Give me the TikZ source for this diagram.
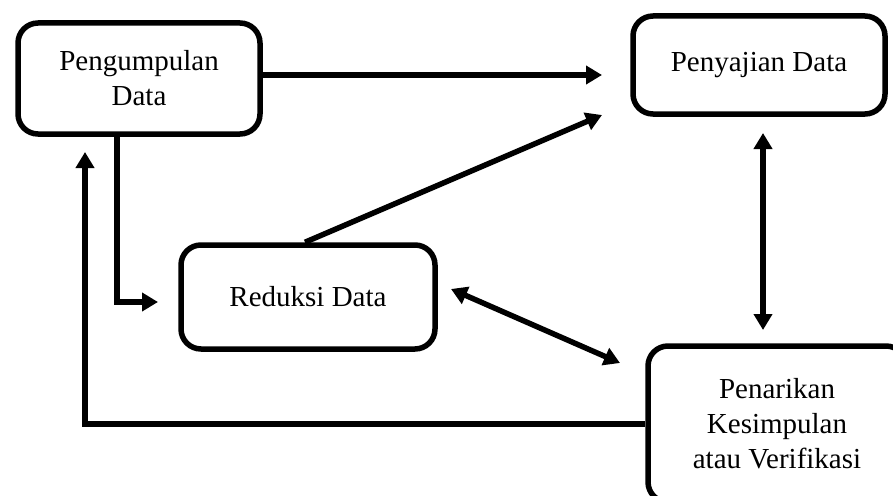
\documentclass[tikz,border=0pt]{standalone}
\usepackage{fontspec}
\setmainfont{Liberation Serif}
\usetikzlibrary{arrows.meta}

\begin{document}
\begin{tikzpicture}[x=1pt, y=-1pt]
        \tikzstyle{box}=[draw,line width=5.5pt,rounded corners=20pt,align=center,inner sep=0pt,font=\fontsize{29}{35}\selectfont]
        \tikzstyle{flow}=[line width=5.5pt,-{Triangle[length=16pt,width=18pt]}]
        \tikzstyle{both}=[line width=5.5pt,{Triangle[length=16pt,width=18pt]}-{Triangle[length=16pt,width=18pt]}]

        \useasboundingbox (0,0) rectangle (893,495);
        \clip (0,0) rectangle (893,495);

        \node[box,minimum width=242pt,minimum height=111pt] (K_1) at (139,78.5)  {Pengumpulan\\Data};
        \node[box,minimum width=252pt,minimum height=98pt] (K_2) at (759,65)  {Penyajian Data};
        \node[box,minimum width=254pt,minimum height=104pt] (K_3) at (308,297)  {Reduksi Data};
        \node[box,minimum width=258pt,minimum height=156pt] (K_4) at (777,424)  {Penarikan\\Kesimpulan\\atau Verifikasi};

        \coordinate (T_1) at (602,75);
        \coordinate (T_2) at (602,115);
        \coordinate (T_3) at (158,302);
        \coordinate (T_4) at (85,152);
        \coordinate (A_1) at (763,133);
        \coordinate (A_2) at (763,330);
        \coordinate (A_3) at (451,289);
        \coordinate (A_4) at (620,363);

        \draw[flow] (K_1.east |- T_1) -- (T_1);
        \draw[flow] ([xshift=-3pt]K_3.north) -- (T_2);
        \draw[flow] (K_1.south -| 117,0) |- (T_3);
        \draw[flow] (K_4.west) -| (T_4);
        \draw[both] (A_1) -- (A_2);
        \draw[both] (A_3) -- (A_4);
    \end{tikzpicture}
\end{document}
